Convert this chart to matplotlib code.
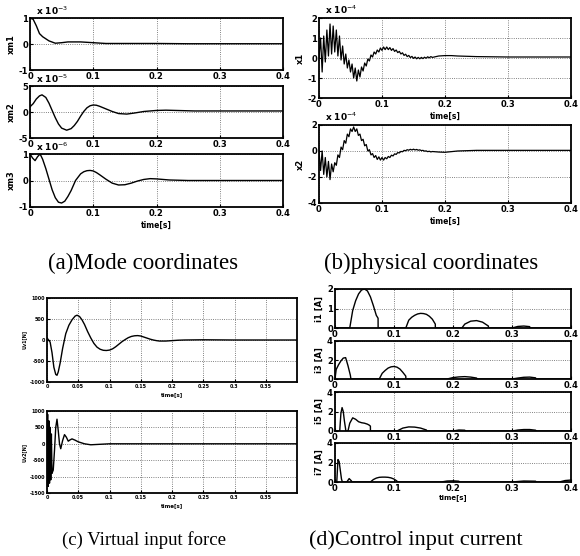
import numpy as np
import matplotlib
matplotlib.use("Agg")
from matplotlib import pyplot as plt

# ---- data ----
# (a) mode coordinates
xm1_t = [0, 0.005, 0.01, 0.015, 0.02, 0.03, 0.04, 0.05, 0.06, 0.08, 0.1, 0.12, 0.15, 0.2, 0.25, 0.3, 0.35, 0.4]
xm1 = [1.0, 0.95, 0.7, 0.4, 0.28, 0.12, 0.03, 0.05, 0.08, 0.08, 0.05, 0.02, 0.02, 0.02, 0.01, 0.01, 0.01, 0.01]

xm2_t = [0, 0.005, 0.01, 0.015, 0.019, 0.025, 0.03, 0.035, 0.04, 0.045, 0.05, 0.058, 0.065, 0.07, 0.075, 0.08,
         0.085, 0.09, 0.095, 0.1, 0.105, 0.11, 0.12, 0.13, 0.14, 0.153, 0.165, 0.18, 0.2, 0.215, 0.23, 0.26, 0.3, 0.35, 0.4]
xm2 = [1.0, 1.6, 2.5, 3.1, 3.3, 2.8, 1.7, 0.3, -1.1, -2.3, -3.1, -3.5, -3.2, -2.6, -1.8, -0.8,
       0.1, 0.8, 1.2, 1.35, 1.3, 1.1, 0.6, 0.1, -0.3, -0.4, -0.2, 0.1, 0.3, 0.35, 0.3, 0.2, 0.2, 0.2, 0.2]

xm3_t = [0, 0.004, 0.008, 0.012, 0.016, 0.02, 0.025, 0.03, 0.035, 0.04, 0.045, 0.05, 0.055, 0.06, 0.065, 0.072,
         0.08, 0.085, 0.09, 0.095, 0.1, 0.105, 0.11, 0.12, 0.13, 0.14, 0.15, 0.16, 0.17, 0.18, 0.19, 0.2, 0.22, 0.25, 0.3, 0.35, 0.4]
xm3 = [1.0, 0.85, 0.75, 0.9, 1.0, 0.8, 0.45, 0.05, -0.35, -0.65, -0.82, -0.85, -0.78, -0.6, -0.38, 0.0,
       0.25, 0.33, 0.37, 0.38, 0.36, 0.3, 0.22, 0.05, -0.1, -0.17, -0.16, -0.1, -0.02, 0.04, 0.07, 0.06, 0.02, 0.0, 0.0, 0.0, 0.0]

# (b) physical coordinates (x 1e-4), dense part sampled every 2.5 ms
phys_t = list(np.arange(0, 0.18001, 0.0025))
tail_t = [0.19, 0.2, 0.21, 0.22, 0.25, 0.3, 0.35, 0.4]
x1 = [0.0, 1.0, -0.7, 1.1, -0.2, 1.4, 0.1, 1.7, 0.2, 1.6, 0.3, 1.4, 0.1, 1.1, -0.1, 0.6,
      -0.3, 0.2, -0.5, -0.1, -0.7, -0.3, -1.0, -0.5, -1.15, -0.6, -0.95, -0.45, -0.65, -0.25, -0.4, -0.05,
      -0.15, 0.15, 0.05, 0.3, 0.2, 0.4, 0.3, 0.5, 0.38, 0.55, 0.42, 0.55, 0.42, 0.52, 0.38, 0.47,
      0.33, 0.4, 0.27, 0.33, 0.2, 0.26, 0.13, 0.19, 0.07, 0.13, 0.02, 0.08, -0.02, 0.05, -0.04, 0.03,
      -0.04, 0.03, -0.03, 0.04, -0.01, 0.06, 0.01, 0.07, 0.03]
x1_tail = [0.1, 0.12, 0.12, 0.1, 0.07, 0.05, 0.05, 0.05]
x2 = [0.0, -1.5, 0.0, -1.8, -0.5, -2.0, -0.8, -2.2, -1.0, -1.6, -0.9, -1.1, -0.3, -0.5, 0.3, 0.1,
      0.8, 0.6, 1.3, 1.1, 1.7, 1.5, 1.85, 1.5, 1.7, 1.2, 1.3, 0.8, 0.9, 0.4, 0.5, 0.0,
      0.1, -0.3, -0.2, -0.5, -0.35, -0.65, -0.45, -0.7, -0.5, -0.7, -0.5, -0.6, -0.42, -0.5, -0.32, -0.38,
      -0.22, -0.26, -0.12, -0.15, -0.03, -0.06, 0.05, 0.02, 0.1, 0.06, 0.13, 0.08, 0.14, 0.08, 0.12, 0.06,
      0.09, 0.03, 0.05, -0.01, 0.01, -0.05, -0.02, -0.07, -0.04]
x2_tail = [-0.08, -0.1, -0.05, 0.0, 0.05, 0.05, 0.05, 0.05]

# (c) virtual input force
uv1_t = [0, 0.005, 0.008, 0.011, 0.014, 0.016, 0.018, 0.021, 0.025, 0.03, 0.035, 0.04, 0.045, 0.048, 0.052, 0.056,
         0.06, 0.065, 0.07, 0.075, 0.08, 0.085, 0.09, 0.095, 0.1, 0.105, 0.11, 0.115, 0.12, 0.125, 0.13, 0.135,
         0.14, 0.145, 0.15, 0.155, 0.16, 0.165, 0.17, 0.175, 0.18, 0.19, 0.2, 0.21, 0.22, 0.25, 0.3, 0.35, 0.4]
uv1 = [50, -50, -300, -650, -820, -840, -760, -550, -200, 150, 350, 480, 570, 590, 560, 480,
       370, 200, 50, -80, -170, -220, -245, -250, -240, -210, -160, -100, -40, 10, 55, 85,
       100, 105, 95, 70, 45, 20, 0, -15, -25, -25, -15, -5, 0, 5, 0, 0, 0]
uv2_t = [0, 0.001, 0.002, 0.003, 0.004, 0.005, 0.006, 0.007, 0.008, 0.01, 0.012, 0.014, 0.016, 0.018, 0.02, 0.022,
         0.025, 0.028, 0.031, 0.034, 0.037, 0.04, 0.045, 0.05, 0.055, 0.06, 0.07, 0.08, 0.1, 0.15, 0.2, 0.3, 0.4]
uv2 = [0, 900, -1300, 700, -1200, 500, -1100, 300, -900, -800, -200, 500, 750, 400, 0, -150,
       100, 280, 200, 80, 120, 150, 110, 60, 30, 0, -30, -20, 0, 0, 0, 0, 0]
c_xticks = [0, 0.05, 0.1, 0.15, 0.2, 0.25, 0.3, 0.35]

# (d) control input current
i1_t = [0, 0.025, 0.03, 0.035, 0.04, 0.045, 0.05, 0.055, 0.06, 0.065, 0.07, 0.073, 0.0731,
        0.12, 0.125, 0.13, 0.135, 0.14, 0.145, 0.15, 0.155, 0.16, 0.165, 0.17, 0.1701,
        0.215, 0.22, 0.23, 0.24, 0.25, 0.26, 0.2601, 0.3, 0.31, 0.32, 0.33, 0.3301, 0.4]
i1 = [0, 0, 0.9, 1.4, 1.75, 1.95, 2.0, 1.9, 1.6, 1.15, 0.65, 0.5, 0,
      0, 0.4, 0.55, 0.65, 0.72, 0.75, 0.74, 0.7, 0.6, 0.45, 0.2, 0,
      0, 0.2, 0.35, 0.38, 0.3, 0.1, 0, 0, 0.08, 0.1, 0.07, 0, 0]
i3_t = [0, 0.002, 0.006, 0.01, 0.014, 0.018, 0.022, 0.026, 0.027,
        0.075, 0.08, 0.085, 0.09, 0.095, 0.1, 0.105, 0.11, 0.115, 0.12, 0.1201,
        0.19, 0.2, 0.21, 0.22, 0.23, 0.24, 0.2401, 0.3, 0.31, 0.32, 0.33, 0.34, 0.3401, 0.4]
i3 = [0, 1.0, 1.5, 1.9, 2.2, 2.25, 1.4, 0.4, 0,
      0, 0.6, 0.9, 1.15, 1.28, 1.32, 1.25, 1.05, 0.7, 0.3, 0,
      0, 0.15, 0.22, 0.25, 0.2, 0.1, 0, 0, 0.1, 0.18, 0.2, 0.12, 0, 0]
i5_t = [0, 0.008, 0.01, 0.012, 0.014, 0.016, 0.018, 0.0181,
        0.022, 0.025, 0.03, 0.035, 0.04, 0.045, 0.05, 0.055, 0.058, 0.06, 0.0601,
        0.105, 0.115, 0.125, 0.135, 0.145, 0.155, 0.1551, 0.2, 0.21, 0.22, 0.2201,
        0.3, 0.31, 0.32, 0.33, 0.34, 0.3401, 0.4]
i5 = [0, 0, 1.8, 2.4, 2.0, 1.0, 0.2, 0,
      0, 0.8, 1.35, 1.2, 0.95, 0.85, 0.8, 0.7, 0.6, 0.5, 0,
      0, 0.3, 0.42, 0.4, 0.3, 0.1, 0, 0, 0.1, 0.08, 0,
      0, 0.1, 0.15, 0.15, 0.08, 0, 0]
i7_t = [0, 0.003, 0.005, 0.007, 0.009, 0.011, 0.012, 0.0121, 0.02, 0.024, 0.028, 0.0281,
        0.06, 0.065, 0.07, 0.075, 0.08, 0.085, 0.09, 0.095, 0.1, 0.105, 0.1051,
        0.18, 0.19, 0.2, 0.21, 0.2101, 0.3, 0.32, 0.34, 0.3401, 0.38, 0.39, 0.4]
i7 = [0, 0, 2.3, 2.1, 1.2, 0.3, 0.1, 0, 0, 0.35, 0.1, 0,
      0, 0.25, 0.4, 0.48, 0.5, 0.5, 0.48, 0.42, 0.3, 0.1, 0,
      0, 0.1, 0.12, 0.08, 0, 0, 0.1, 0.08, 0, 0, 0.15, 0.2]

W, H = 580.0, 556.0
fig = plt.figure(figsize=(5.8, 5.56), dpi=100)
fig.patch.set_facecolor("white")


def make_ax(left, top, right, bottom):
    # pixel box of the scanned figure -> figure fraction
    ax = fig.add_axes([left / W, 1 - bottom / H, (right - left) / W, (bottom - top) / H])
    for s in ax.spines.values():
        s.set_linewidth(1.3)
    ax.tick_params(direction="in", length=2.5, width=0.8, pad=1.5)
    ax.grid(True, ls=":", color="0.35", lw=0.6)
    return ax


def style(ax, x, y, yticks, ylabel, xticks=(0, 0.1, 0.2, 0.3, 0.4), size=6, lw=1.0):
    ax.plot(x, y, color="black", lw=lw)
    ax.set_xlim(0, 0.4)
    ax.set_ylim(yticks[0], yticks[-1])
    ax.set_xticks(xticks)
    ax.set_yticks(yticks)
    ax.set_xticklabels([("%g" % v) for v in xticks], fontsize=size, fontweight="bold")
    ax.set_yticklabels([("%g" % v) for v in yticks], fontsize=size, fontweight="bold")
    ax.set_ylabel(ylabel, fontsize=size, fontweight="bold", labelpad=2)


def scale_note(ax, exp):
    ax.text(0.025, 1.02, "x 10$^{%d}$" % exp, transform=ax.transAxes,
            fontsize=6.5, fontweight="bold", va="bottom")


# (a)
ax = make_ax(30, 18, 283, 70)
style(ax, xm1_t, xm1, [-1, 0, 1], "xm1")
scale_note(ax, -3)
ax = make_ax(30, 86, 283, 138)
style(ax, xm2_t, xm2, [-5, 0, 5], "xm2")
scale_note(ax, -5)
ax = make_ax(30, 154, 283, 207)
style(ax, xm3_t, xm3, [-1, 0, 1], "xm3")
scale_note(ax, -6)
ax.set_xlabel("time[s]", fontsize=5.5, fontweight="bold", labelpad=2)

# (b)
ax = make_ax(319, 18, 571, 98)
style(ax, phys_t + tail_t, x1 + x1_tail, [-2, -1, 0, 1, 2], "x1", lw=0.9)
scale_note(ax, -4)
ax.set_xlabel("time[s]", fontsize=5.5, fontweight="bold", labelpad=2)
ax = make_ax(319, 125, 571, 203)
style(ax, phys_t + tail_t, x2 + x2_tail, [-4, -2, 0, 2], "x2", lw=0.9)
scale_note(ax, -4)
ax.set_xlabel("time[s]", fontsize=5.5, fontweight="bold", labelpad=2)

# (c)
ax = make_ax(47, 298, 297, 382)
style(ax, uv1_t, uv1, [-1000, -500, 0, 500, 1000], "Uv1[N]", xticks=c_xticks, size=3.5)
ax.set_xlim(0, 0.4)
ax.set_xlabel("time[s]", fontsize=4, fontweight="bold", labelpad=2)
ax = make_ax(47, 411, 297, 493)
style(ax, uv2_t, uv2, [-1500, -1000, -500, 0, 500, 1000], "Uv2[N]", xticks=c_xticks, size=3.5)
ax.set_xlim(0, 0.4)
ax.set_xlabel("time[s]", fontsize=4, fontweight="bold", labelpad=2)

# (d)
ax = make_ax(335, 289, 571, 328)
style(ax, i1_t, i1, [0, 1, 2], "i1 [A]")
ax = make_ax(335, 341, 571, 379)
style(ax, i3_t, i3, [0, 2, 4], "i3 [A]")
ax = make_ax(335, 392, 571, 431)
style(ax, i5_t, i5, [0, 2, 4], "i5 [A]")
ax = make_ax(335, 443, 571, 482)
style(ax, i7_t, i7, [0, 2, 4], "i7 [A]")
ax.set_xlabel("time[s]", fontsize=5, fontweight="bold", labelpad=1)

# captions
cap = dict(family="Liberation Serif", ha="center", va="center")
fig.text(143 / W, 1 - 263 / H, "(a)Mode coordinates", fontsize=16.5, **cap)
fig.text(431 / W, 1 - 263 / H, "(b)physical coordinates", fontsize=16.5, **cap)
fig.text(144 / W, 1 - 540 / H, "(c) Virtual input force", fontsize=13.5, **cap)
fig.text(416 / W, 1 - 540 / H, "(d)Control input current", fontsize=16, **cap)

fig.savefig("out.png", dpi=100)
